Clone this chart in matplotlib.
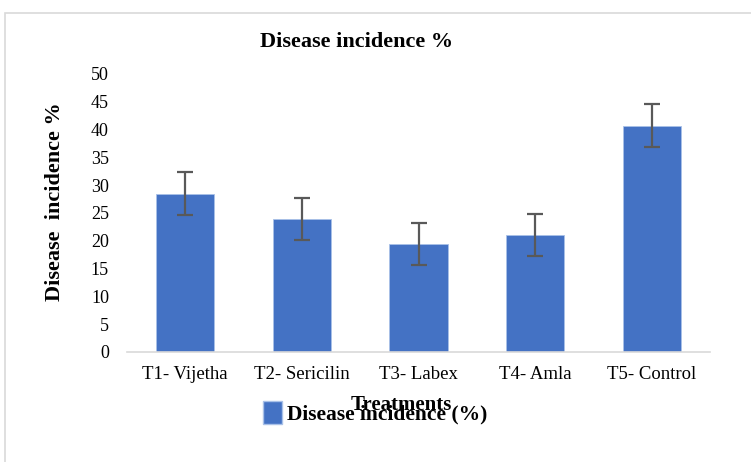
import matplotlib.pyplot as plt
from matplotlib.patches import Rectangle, Patch

# ---------------- data ----------------

treatments = ["T1- Vijetha", "T2- Sericilin", "T3- Labex", "T4- Amla", "T5- Control"]
incidence = [28.5, 23.9, 19.4, 21.0, 40.7]
errors = [3.9, 3.8, 3.8, 3.8, 3.9]
yticks = [0, 5, 10, 15, 20, 25, 30, 35, 40, 45, 50]

# ---------------- plot ----------------

plt.rcParams["font.family"] = ["Liberation Serif", "DejaVu Serif"]

W, H = 751, 462
fig = plt.figure(figsize=(W / 100, H / 100), dpi=100)

# outer chart frame
fig.patches.append(Rectangle((5 / W, -0.1), 1.2, 1 - 13 / H + 0.1,
                             transform=fig.transFigure, fill=False,
                             edgecolor="#d9d9d9", linewidth=1.2))

ax = fig.add_axes([127 / W, 1 - 352 / H, (710 - 127) / W, (352 - 74) / H])

x = range(len(treatments))
ax.bar(x, incidence, width=0.5, color="#4472c4", edgecolor="#a9c1e8", linewidth=0.6,
       yerr=errors, error_kw=dict(ecolor="#595959", elinewidth=1.6, capsize=6, capthick=1.6))

ax.set_xlim(-0.5, len(treatments) - 0.5)
ax.set_ylim(0, 50)
ax.set_yticks(yticks)
ax.set_xticks(list(x))
ax.set_xticklabels(treatments, fontsize=13.5)
ax.tick_params(axis="y", labelsize=13, length=0, pad=13)
ax.tick_params(axis="x", length=0, pad=10)

for s in ["top", "right", "left"]:
    ax.spines[s].set_visible(False)
ax.spines["bottom"].set_color("#d9d9d9")
ax.spines["bottom"].set_linewidth(1.2)

fig.text(357 / W, 1 - 42 / H, "Disease incidence %", ha="center", va="center",
         fontsize=16, fontweight="bold")
fig.text(55 / W, 1 - 202 / H, "Disease  incidence %", ha="center", va="center",
         rotation=90, fontsize=16, fontweight="bold")
fig.text(401 / W, 1 - 405 / H, "Treatments", ha="center", va="center",
         fontsize=15, fontweight="bold")

leg = fig.legend(handles=[Patch(facecolor="#4472c4", edgecolor="#a9c1e8",
                                label="Disease incidence (%)")],
                 loc="center", bbox_to_anchor=(375 / W, 1 - 413 / H),
                 frameon=False, prop=dict(size=15.5, weight="bold"),
                 handlelength=0.9, handleheight=1.3, handletextpad=0.2)

fig.savefig("out.png", dpi=100)
